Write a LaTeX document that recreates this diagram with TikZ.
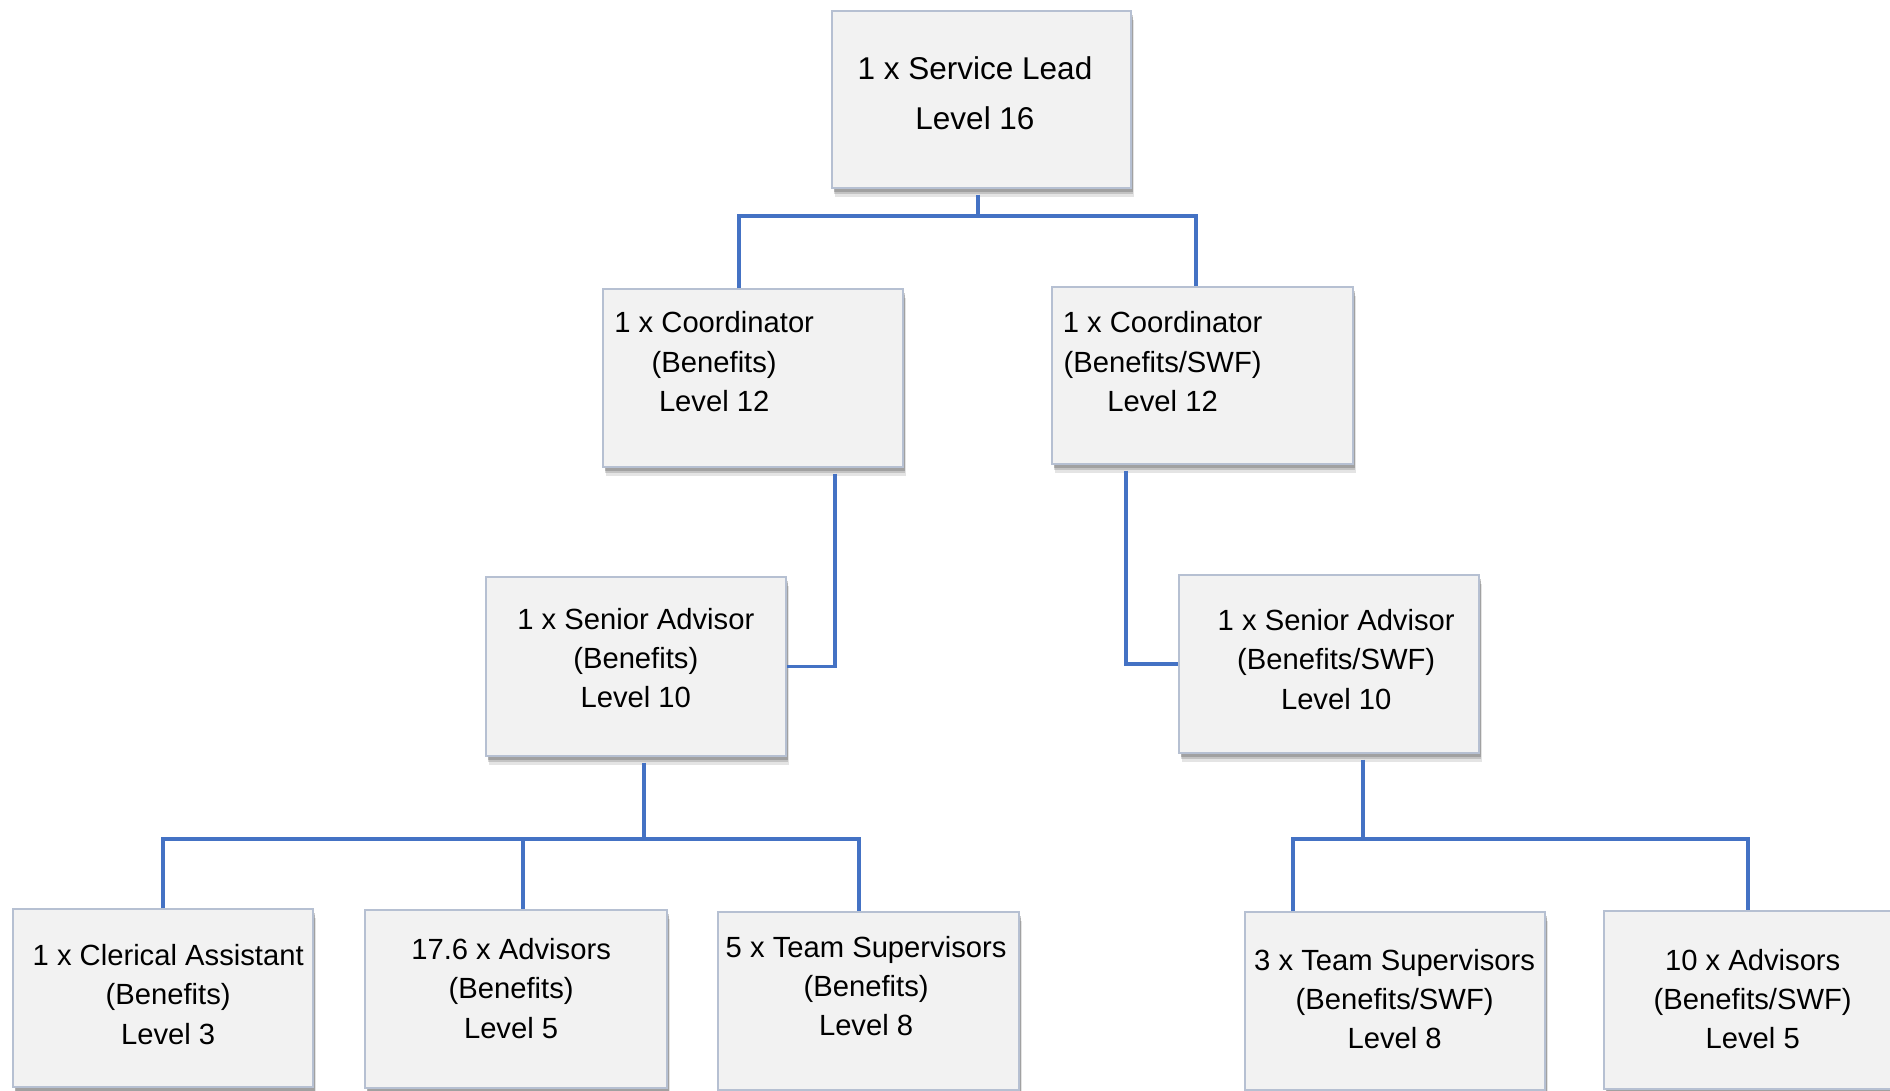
\documentclass[tikz,border=0pt]{standalone}
\usepackage{fontspec}
\setmainfont{Liberation Sans}
\usetikzlibrary{shadows}
\definecolor{boxfill}{HTML}{F2F2F2}
\definecolor{boxline}{HTML}{B6C0D2}
\definecolor{conn}{HTML}{4472C4}
\begin{document}
\begin{tikzpicture}[x=1pt,y=-1pt,
  orgbox/.style={draw=boxline, line width=1.3pt, fill=boxfill, inner sep=0pt,
    drop shadow={opacity=0.14, shadow xshift=3pt, shadow yshift=-9pt, fill=black!75},
    drop shadow={opacity=0.20, shadow xshift=2pt, shadow yshift=-6pt, fill=black!75},
    drop shadow={opacity=0.26, shadow xshift=1.5pt, shadow yshift=-3.5pt, fill=black!75}},
  bigtxt/.style={align=center, inner sep=0pt, font=\fontsize{31.5}{49.4}\selectfont},
  txt/.style={align=center, inner sep=0pt, font=\fontsize{29.2}{39.2}\selectfont},
  link/.style={draw=conn, line width=3.3pt}]
\useasboundingbox (0,0) rectangle (1890,1090);
\clip (0,0) rectangle (1890,1090);
% boxes
\node[orgbox, minimum width=299pt, minimum height=177pt] (top) at (981.5,99.5) {};
\node[orgbox, minimum width=300pt, minimum height=178pt] (cb) at (753,378) {};
\node[orgbox, minimum width=301pt, minimum height=177pt] (cs) at (1202.5,375.5) {};
\node[orgbox, minimum width=300pt, minimum height=179pt] (sb) at (636,666.5) {};
\node[orgbox, minimum width=300pt, minimum height=178pt] (ss) at (1329,664) {};
\node[orgbox, minimum width=300pt, minimum height=178pt] (cl) at (163,998) {};
\node[orgbox, minimum width=302pt, minimum height=178pt] (ad) at (516,999) {};
\node[orgbox, minimum width=301pt, minimum height=178pt] (ts) at (868.5,1001) {};
\node[orgbox, minimum width=300pt, minimum height=178pt] (tw) at (1395,1001) {};
\node[orgbox, minimum width=300pt, minimum height=178pt] (aw) at (1754,1000) {};
% texts
\node[bigtxt] (topt) at (975,93.4) {1 x Service Lead\\Level 16};
\node[txt] (cbt) at (714.2,361.6) {1 x Coordinator\\(Benefits)\\Level 12};
\node[txt] (cst) at (1162.6,361.6) {1 x Coordinator\\(Benefits/SWF)\\Level 12};
\node[txt] (sbt) at (635.8,658.2) {1 x Senior Advisor\\(Benefits)\\Level 10};
\node[txt] (sst) at (1336.2,659.4) {1 x Senior Advisor\\(Benefits/SWF)\\Level 10};
\node[txt] (clt) at (168.2,994.5) {1 x Clerical Assistant\\(Benefits)\\Level 3};
\node[txt] (adt) at (511.1,988.4) {17.6 x Advisors\\(Benefits)\\Level 5};
\node[txt] (tst) at (866.1,986) {5 x Team Supervisors\\(Benefits)\\Level 8};
\node[txt] (twt) at (1394.6,999.3) {3 x Team Supervisors\\(Benefits/SWF)\\Level 8};
\node[txt] (awt) at (1752.7,999.3) {10 x Advisors\\(Benefits/SWF)\\Level 5};
% junction coordinates
\coordinate (j1) at (978,216);
\coordinate (j2) at (644,839);
\coordinate (j3) at (1363,839);
% connectors
\draw[link] ([yshift=-6pt]top.south -| j1) -- (j1);
\draw[link] (cb.north -| 739,0) -- (739,216) -- (1196,216) -- (cs.north -| 1196,0);
\draw[link] ([yshift=-6pt]cb.south -| 835,0) |- (sb.east);
\draw[link] ([yshift=-6pt]cs.south -| 1126,0) |- (ss.west);
\draw[link] ([yshift=-6pt]sb.south -| j2) -- (j2);
\draw[link] (cl.north -| 163,0) -- (163,839) -- (859,839) -- (ts.north -| 859,0);
\draw[link] (523,839) -- (ad.north -| 523,0);
\draw[link] ([yshift=-6pt]ss.south -| j3) -- (j3);
\draw[link] (tw.north -| 1293,0) -- (1293,839) -- (1748,839) -- (aw.north -| 1748,0);
\end{tikzpicture}
\end{document}
